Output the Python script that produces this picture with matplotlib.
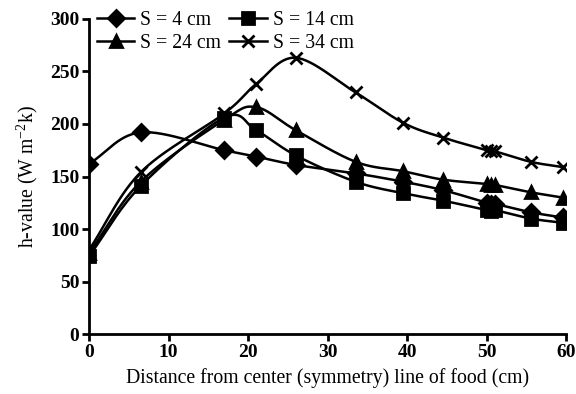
import numpy as np
import matplotlib
matplotlib.use('Agg')
import matplotlib.pyplot as plt

# distance from the symmetry line of the food (cm)
distance = [0, 6.5, 17, 21, 26, 33.5, 39.5, 44.5, 50, 50.5, 51, 55.5, 59.5]

# heat transfer coefficient for each spacing S
h_s4 = [162, 192, 175, 169, 161, 153, 145, 137, 125, 124, 124, 116, 111]
h_s14 = [74, 141, 206, 194, 170, 145, 134, 127, 118, 117, 118, 110, 106]
h_s24 = [77, 145, 204, 216, 194, 164, 155, 147, 143, 142, 142, 135, 130]
h_s34 = [80, 154, 210, 238, 263, 230, 201, 187, 175, 174, 174, 164, 159]

series_labels = ['S = 4 cm', 'S = 14 cm', 'S = 24 cm', 'S = 34 cm']
series_markers = ['D', 's', '^', 'x']


def smooth(x, y, n=30):
    """Catmull-Rom spline through the points (like a spreadsheet 'smoothed line')."""
    x = np.asarray(x, float)
    y = np.asarray(y, float)
    px = np.concatenate([[2 * x[0] - x[1]], x, [2 * x[-1] - x[-2]]])
    py = np.concatenate([[2 * y[0] - y[1]], y, [2 * y[-1] - y[-2]]])
    xs, ys = [], []
    t = np.linspace(0, 1, n, endpoint=False)
    for i in range(1, len(px) - 2):
        for p, out in ((px, xs), (py, ys)):
            p0, p1, p2, p3 = p[i - 1], p[i], p[i + 1], p[i + 2]
            seg = 0.5 * ((2 * p1) + (-p0 + p2) * t
                         + (2 * p0 - 5 * p1 + 4 * p2 - p3) * t ** 2
                         + (-p0 + 3 * p1 - 3 * p2 + p3) * t ** 3)
            out.extend(seg)
    xs.append(x[-1])
    ys.append(y[-1])
    return np.array(xs), np.array(ys)


plt.rcParams['font.family'] = ['Liberation Serif', 'DejaVu Serif']
plt.rcParams['mathtext.fontset'] = 'stix'

fig = plt.figure(figsize=(5.76, 3.94), dpi=100)
ax = fig.add_axes([0.1545, 0.152, 0.829, 0.8])

handles = []
for vals, label, mk in zip([h_s4, h_s14, h_s24, h_s34], series_labels, series_markers):
    sx, sy = smooth(distance, vals)
    ax.plot(sx, sy, color='black', lw=1.8, zorder=2)
    ms = 9 if mk == 'x' else (8 if mk == 'D' else 8.5)
    ax.plot(distance, vals, ls='none', marker=mk, color='black', ms=ms, mew=2, zorder=3)
    h, = ax.plot([], [], color='black', lw=1.8, marker=mk, ms=ms, mew=2, label=label)
    handles.append(h)

ax.set_xlim(0, 60)
ax.set_ylim(0, 300)
ax.set_xticks(range(0, 61, 10))
ax.set_yticks(range(0, 301, 50))
for side in ('top', 'right'):
    ax.spines[side].set_visible(False)
for side in ('left', 'bottom'):
    ax.spines[side].set_linewidth(2)
ax.tick_params(direction='out', width=2, length=5, labelsize=14, pad=2)
for lab in ax.get_xticklabels() + ax.get_yticklabels():
    lab.set_fontweight('bold')

ax.set_xlabel('Distance from center (symmetry) line of food (cm)', fontsize=14.2, labelpad=5)
ax.set_ylabel(r'h-value (W m$^{\mathregular{-2}}$k)', fontsize=14.2, labelpad=7)

# order so that rows read 4, 14 / 24, 34
order = [0, 2, 1, 3]
ax.legend([handles[i] for i in order], [series_labels[i] for i in order],
          ncol=2, frameon=False, loc='upper left', bbox_to_anchor=(0.0, 1.05),
          fontsize=14.2, handlelength=1.9, handletextpad=0.3, columnspacing=0.4,
          labelspacing=0.2, borderaxespad=0)

fig.savefig('out.png', dpi=100)
